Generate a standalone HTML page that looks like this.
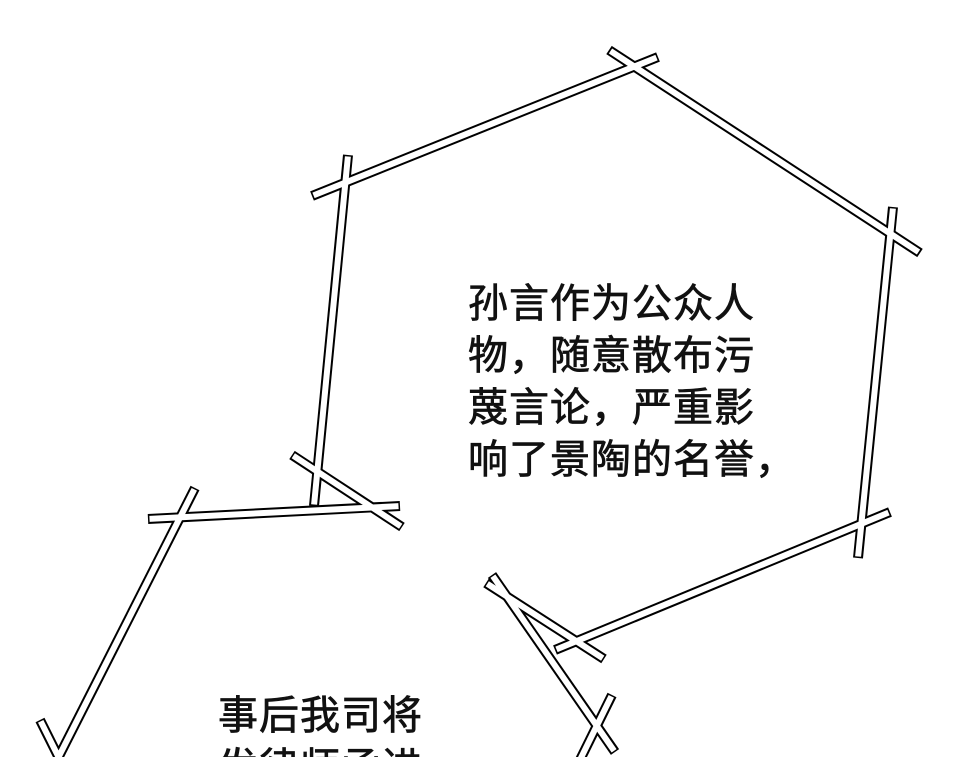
<!DOCTYPE html>
<html><head><meta charset="utf-8"><style>
html,body{margin:0;padding:0;background:#fff;width:970px;height:757px;overflow:hidden;position:relative}
svg{position:absolute;left:0;top:0}
.t{position:absolute;font-family:"Liberation Sans","Noto Sans CJK SC",sans-serif;font-size:40px;line-height:52px;color:#111;white-space:nowrap;letter-spacing:1px;-webkit-text-stroke:0.7px #111}
</style></head><body>
<svg width="970" height="757" viewBox="0 0 970 757">
<g stroke="#000" stroke-width="10" stroke-linecap="butt" fill="none">
<line x1="312" y1="196" x2="658" y2="57"/>
<line x1="609" y1="50" x2="920" y2="253"/>
<line x1="348" y1="155" x2="314" y2="506"/>
<line x1="893" y1="207" x2="858" y2="558"/>
<line x1="890" y1="512" x2="555" y2="650"/>
<line x1="292" y1="455" x2="402" y2="527"/>
<line x1="148" y1="519" x2="400" y2="506"/>
<line x1="195" y1="488" x2="52" y2="770"/>
<line x1="40" y1="720" x2="65" y2="770"/>
<line x1="492" y1="575" x2="615" y2="752"/>
<line x1="486" y1="583" x2="604" y2="659"/>
<line x1="612" y1="695" x2="575" y2="770"/>
</g>
<g stroke="#fff" stroke-width="6" stroke-linecap="butt" fill="none">
<line x1="313.5" y1="195.4" x2="656.5" y2="57.6"/>
<line x1="610.5" y1="51" x2="918.5" y2="252"/>
<line x1="347.9" y1="156.5" x2="314.1" y2="504.5"/>
<line x1="892.9" y1="208.5" x2="858.1" y2="556.5"/>
<line x1="888.5" y1="512.6" x2="556.5" y2="649.4"/>
<line x1="293.3" y1="455.8" x2="400.7" y2="526.2"/>
<line x1="149.5" y1="518.9" x2="398.5" y2="506.1"/>
<line x1="194.3" y1="489.3" x2="52" y2="770"/>
<line x1="40.7" y1="721.3" x2="65" y2="770"/>
<line x1="492.9" y1="576.2" x2="614.1" y2="750.8"/>
<line x1="487.3" y1="583.8" x2="602.7" y2="658.2"/>
<line x1="611.3" y1="696.3" x2="575" y2="770"/>
</g>
</svg>
<div class="t" style="left:468px;top:278px">孙言作为公众人<br>物，随意散布污<br>蔑言论，严重影<br>响了景陶的名誉，</div>
<div class="t" style="left:218px;top:690px">事后我司将<br>发律师函进</div>
</body></html>
